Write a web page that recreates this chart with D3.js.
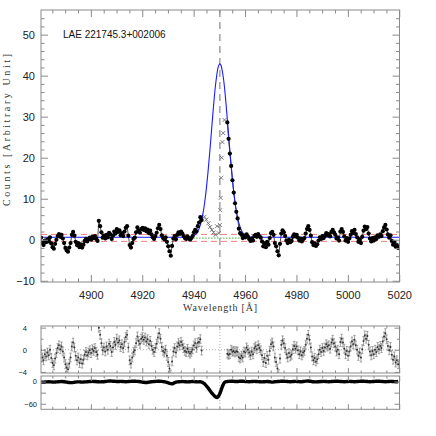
<!DOCTYPE html>
<html><head><meta charset="utf-8">
<script src="https://cdn.jsdelivr.net/npm/d3@7/dist/d3.min.js"></script>
<style>body{margin:0;background:#fff}</style>
</head><body>
<svg id="c" width="436" height="436" xmlns="http://www.w3.org/2000/svg"></svg>
<script>
// ---------------- data ----------------
const title = "LAE 221745.3+002006";
const xLabel = "Wavelength [\u00C5]";
const yLabel = "Counts [Arbitrary Unit]";
const xTicksMajor = [4900, 4920, 4940, 4960, 4980, 5000, 5020];
const yTicksMain = [-10, 0, 10, 20, 30, 40, 50];
const yTicksResid = [-4, 0, 4];
const yTicksLower = [-60, 0];

// spectrum sampled every 0.5 A
const waveStep = 0.5;
const blueSideStart = 4880.6;   // continuum + blue wing
const blueSideFlux = [
  0.5,-0.8,-1.3,-0.2,-0.6,0.1,-0.4,0.6,-0.9,-1.8,
  -2.2,-1.0,0.0,0.9,1.4,0.7,1.2,0.3,-0.8,-2.0,
  -2.6,-2.9,-1.9,-0.8,1.2,1.9,1.0,-0.5,-1.3,-0.8,
  -1.8,-1.1,-1.9,-1.2,-0.3,0.2,-0.4,0.1,0.5,0.0,
  0.7,0.4,0.9,0.2,-0.3,4.6,3.3,1.8,0.5,1.0,
  0.3,1.2,0.6,1.7,1.3,0.2,1.0,2.0,1.5,2.6,
  1.9,2.3,1.1,1.6,0.9,2.0,2.9,3.3,1.0,-1.3,
  -1.9,-0.8,0.2,0.5,1.8,3.0,2.2,1.7,2.6,2.9,
  2.4,2.8,2.1,2.5,1.6,2.2,1.3,0.6,0.2,0.9,
  1.7,2.8,3.6,2.6,1.1,0.4,0.1,0.6,-0.5,-1.6,
  -2.8,-3.9,-1.5,0.3,0.9,0.1,1.2,1.8,1.4,2.0,
  1.5,0.9,0.4,0.2,0.8,0.3,0.0,0.4,0.9,1.8,
  2.4,2.0,3.3,4.2,5.5,4.8
];
const redSideStart = 4953.1;    // red wing + continuum
const redSideFlux = [
  28.6,24.6,21.0,18.0,14.5,11.5,8.9,6.8,5.2,2.7,
  1.6,1.2,0.4,1.0,0.6,1.3,0.8,0.2,-0.3,0.3,
  -0.2,0.9,1.2,0.7,1.4,0.9,0.5,-0.4,-1.6,-0.9,
  -1.8,-0.5,-1.2,0.4,1.6,1.9,1.2,-0.8,-1.6,-2.8,
  -3.8,-1.0,1.5,2.3,1.8,0.9,-0.2,-0.8,0.0,-0.6,
  -0.3,0.7,1.3,0.8,1.2,0.5,-0.2,0.3,-0.4,0.1,
  0.4,1.5,2.6,3.3,2.4,1.0,-0.6,-1.3,-0.9,-1.5,
  -1.1,-0.2,0.6,0.2,0.9,0.4,1.0,1.6,1.2,1.4,
  0.8,1.9,2.4,1.8,1.2,0.3,0.6,-0.2,2.0,2.6,
  1.9,0.8,-0.2,0.4,-0.5,0.3,1.2,2.1,1.6,2.4,
  1.4,0.6,-0.5,0.1,-0.8,0.7,2.2,3.2,2.6,3.1,
  1.5,0.3,-0.4,0.4,-0.2,0.6,0.2,1.1,0.7,1.3,
  0.9,2.1,3.0,3.6,2.5,1.3,0.5,1.1,-0.3,-1.2,
  -0.6,-1.7,-1.3,-2.0
];
// masked pixels (grey crosses)
const maskedWave = [4944.2,4944.9,4945.7,4946.4,4947.1,4947.8,4948.5,4949.1,4949.8,4950.2,4950.3,4950.5,4950.7,4950.9,4951.2,4951.5,4952.0];
const maskedFlux = [5.6,4.9,4.0,3.1,2.4,1.8,1.2,3.3,1.6,3.6,7.2,10.2,15.1,20.0,23.8,26.0,29.2];

// fitted model (blue)
const modelWave = [4880.6,4935.6,4936.6,4937.6,4938.6,4939.6,4940.6,4941.6,4942.6,4943.6,4944.6,4945.6,4946.6,4947.6,4948.6,4949.6,4950.2,4950.6,4951.6,4952.6,4953.6,4954.6,4955.6,4956.6,4957.6,4958.6,4959.6,4960.6,4961.6,4962.6,4963.6,4964.6,5020.1];
const modelFlux = [0.6,0.6,0.6,0.63,0.69,0.84,1.22,2.02,3.58,6.32,10.6,16.6,23.9,31.6,38.2,42.2,42.9,42.6,39.3,33.1,25.5,18.0,11.7,7.06,4.03,2.26,1.33,0.89,0.71,0.64,0.61,0.6,0.6];

const lineCenter = 4950.2;
const noiseUpper = 1.3, noiseLower = -0.4;
const fitLevel = 0.4, fitRange = [4938.6, 4958.0];
const residError = 0.8;

// lower panel
const lowerLeftStart = 4880.6, lowerLeftStep = 1;
const lowerLeft = [
  -1,-1.5,-1,-0.5,-1,-1.5,-1,-0.5,0,-0.5,-1.5,-2.5,-3,-2,-1,-1,-1.5,-1,-0.5,0,
  0.5,0,-0.5,-1,-0.5,0,1,1.5,1,0.5,0,0.5,0,-0.5,0,0.5,1,0.5,0,-1,
  -2,-2.5,-1.5,-0.5,0,0.5,1,0.5,-0.5,-2,-5,-6,-3,-1,-0.5,0,-0.5,-1,-0.5,0,
  -0.5,-1
];
const lowerDipStart = 4942.1, lowerDipStep = 0.5;
const lowerDip = [-0.5,-0.5,-1.5,-3,-5.5,-9,-13,-17,-22,-27,-31,-35,-39,-42,-43,-40,-34,-25,-15,-7,-2,-0.5,0];
const lowerRightStart = 4953.6, lowerRightStep = 1;
const lowerRight = [
  0.5,1,0.5,0,0.5,1,0.5,0,-0.5,0,0.5,0,-0.5,-1,-0.5,0,-0.5,-1.5,-0.5,0,
  0.5,1,0.5,0,-0.5,0,0.5,0,-0.5,0,1,1.5,0.5,-0.5,-1,-0.5,0,0.5,0,-0.5,
  0,0.5,1,0.5,0,-0.5,0,0.5,0,-0.5,0,0.5,1,0.5,0,-0.5,0,0.5,1,0.5,
  0,-0.5,0,0.5,0,-0.5,0
];

// ---------------- layout ----------------
const L = 41, R = 399.5;
const main = {top: 10, bottom: 282};
const res = {top: 326, bottom: 373};
const low = {top: 376, bottom: 409.3};
const frameColor = "#8a8a8a";
const textColor = "#222";

const svg = d3.select("#c");
const x = d3.scaleLinear().domain([4880.6, 5020.1]).range([L, R]);
const yMain = d3.scaleLinear().domain([-10.3, 56]).range([main.bottom, main.top]);
const yRes = d3.scaleLinear().domain([-4.2, 4.3]).range([res.bottom, res.top]);
const yLow = d3.scaleLinear().domain([-75, 15]).range([low.bottom, low.top]);

const seg = (start, step, arr) => arr.map((v, i) => ({w: start + i * step, v}));
const blueSide = seg(blueSideStart, waveStep, blueSideFlux);
const redSide = seg(redSideStart, waveStep, redSideFlux);
const model = modelWave.map((w, i) => ({w, v: modelFlux[i]}));
const lower = seg(lowerLeftStart, lowerLeftStep, lowerLeft)
  .concat(seg(lowerDipStart, lowerDipStep, lowerDip))
  .concat(seg(lowerRightStart, lowerRightStep, lowerRight));

function modelAt(w) {
  if (w <= modelWave[0]) return modelFlux[0];
  for (let i = 1; i < modelWave.length; i++) {
    if (w <= modelWave[i]) {
      const t = (w - modelWave[i-1]) / (modelWave[i] - modelWave[i-1]);
      return modelFlux[i-1] + t * (modelFlux[i] - modelFlux[i-1]);
    }
  }
  return modelFlux[modelFlux.length - 1];
}
const residuals = blueSide.concat(redSide).map(d => ({w: d.w, v: d.v - modelAt(d.w)}));

const minorX = d3.range(4885, 5020.1, 5);

function clip(id, top, bottom) {
  svg.append("clipPath").attr("id", id).append("rect")
    .attr("x", L).attr("y", top).attr("width", R - L).attr("height", bottom - top);
}
clip("cm", main.top, main.bottom);
clip("cr", res.top, res.bottom);
clip("cl", low.top, low.bottom);

function frame(p, yScale, yMajor, yMinor, opt) {
  const g = svg.append("g");
  const xb = d3.axisBottom(x).tickValues(xTicksMajor).tickSize(-opt.xMajor).tickPadding(9)
    .tickFormat(opt.xLabels ? d3.format("d") : "");
  g.append("g").attr("transform", `translate(0,${p.bottom})`).call(xb);
  g.append("g").attr("transform", `translate(0,${p.bottom})`)
    .call(d3.axisBottom(x).tickValues(minorX.filter(v => !xTicksMajor.includes(v))).tickSize(-opt.xMinor).tickFormat(""));
  g.append("g").attr("transform", `translate(0,${p.top})`)
    .call(d3.axisTop(x).tickValues(xTicksMajor).tickSize(-opt.xMajor).tickFormat(""));
  g.append("g").attr("transform", `translate(0,${p.top})`)
    .call(d3.axisTop(x).tickValues(minorX.filter(v => !xTicksMajor.includes(v))).tickSize(-opt.xMinor).tickFormat(""));
  g.append("g").attr("transform", `translate(${L},0)`)
    .call(d3.axisLeft(yScale).tickValues(yMajor).tickSize(-opt.yMajor).tickPadding(opt.yPad).tickFormat(d3.format("d")));
  g.append("g").attr("transform", `translate(${L},0)`)
    .call(d3.axisLeft(yScale).tickValues(yMinor).tickSize(-opt.yMinor).tickFormat(""));
  g.append("g").attr("transform", `translate(${R},0)`)
    .call(d3.axisRight(yScale).tickValues(yMajor).tickSize(-opt.yMajor).tickFormat(""));
  g.append("g").attr("transform", `translate(${R},0)`)
    .call(d3.axisRight(yScale).tickValues(yMinor).tickSize(-opt.yMinor).tickFormat(""));
  g.selectAll(".domain").remove();
  g.selectAll(".tick line").attr("stroke", frameColor).attr("stroke-width", 1);
  g.selectAll(".tick text").attr("fill", textColor)
    .style("font-family", "Liberation Sans, Arial, sans-serif").style("font-size", opt.fs + "px");
  g.append("rect").attr("x", L).attr("y", p.top).attr("width", R - L).attr("height", p.bottom - p.top)
    .attr("fill", "none").attr("stroke", frameColor).attr("stroke-width", 1);
  return g;
}

// ---------------- main panel ----------------
const gm = svg.append("g").attr("clip-path", "url(#cm)");
[noiseUpper, noiseLower].forEach(v => {
  gm.append("line").attr("x1", L).attr("x2", R).attr("y1", yMain(v)).attr("y2", yMain(v))
    .attr("stroke", "#f07070").attr("stroke-width", 0.9).attr("stroke-dasharray", "6,4");
});
gm.append("line").attr("x1", x(fitRange[0])).attr("x2", x(fitRange[1]))
  .attr("y1", yMain(fitLevel)).attr("y2", yMain(fitLevel))
  .attr("stroke", "#22aa22").attr("stroke-width", 0.9).attr("stroke-dasharray", "1.5,1.5");
gm.append("line").attr("x1", x(lineCenter)).attr("x2", x(lineCenter))
  .attr("y1", main.top).attr("y2", main.bottom)
  .attr("stroke", "#9a9a9a").attr("stroke-width", 1.4).attr("stroke-dasharray", "7,5");

const lineGen = d3.line().x(d => x(d.w)).y(d => yMain(d.v));
[blueSide, redSide].forEach(s => {
  gm.append("path").datum(s).attr("d", lineGen).attr("fill", "none")
    .attr("stroke", "#000").attr("stroke-width", 0.7);
});
gm.selectAll(".mk").data(maskedWave.map((w, i) => ({w, v: maskedFlux[i]}))).enter()
  .append("path").attr("d", d3.symbol().type(d3.symbolX).size(12))
  .attr("transform", d => `translate(${x(d.w)},${yMain(d.v)})`)
  .attr("fill", "none").attr("stroke", "#6e6e6e").attr("stroke-width", 0.9);
gm.append("path").datum(model)
  .attr("d", d3.line().x(d => x(d.w)).y(d => yMain(d.v)).curve(d3.curveCatmullRom.alpha(0.5)))
  .attr("fill", "none").attr("stroke", "#1a1aff").attr("stroke-width", 1.1);
gm.selectAll(".pt").data(blueSide.concat(redSide)).enter().append("circle")
  .attr("cx", d => x(d.w)).attr("cy", d => yMain(d.v)).attr("r", 2.1).attr("fill", "#000");

frame(main, yMain, yTicksMain, d3.range(-10, 56, 2).filter(v => v % 10 !== 0),
  {xMajor: 7, xMinor: 3.5, yMajor: 7, yMinor: 3.5, yPad: 6, xLabels: true, fs: 11});

svg.append("text").attr("x", 63).attr("y", 38).text(title)
  .attr("fill", "#111").style("font-family", "Liberation Sans, Arial, sans-serif").style("font-size", "10px");
svg.append("text").attr("x", 220).attr("y", 311).attr("text-anchor", "middle").text(xLabel)
  .attr("fill", "#333").attr("textLength", 74).attr("lengthAdjust", "spacing")
  .style("font-family", "Liberation Serif, serif").style("font-size", "10px");
svg.append("text").attr("transform", "translate(10,130) rotate(-90)").attr("text-anchor", "middle").text(yLabel)
  .attr("fill", "#333").attr("textLength", 152).attr("lengthAdjust", "spacing")
  .style("font-family", "Liberation Serif, serif").style("font-size", "10px");

// ---------------- residual panel ----------------
const gr = svg.append("g").attr("clip-path", "url(#cr)");
gr.append("line").attr("x1", L).attr("x2", R).attr("y1", yRes(0)).attr("y2", yRes(0))
  .attr("stroke", "#999").attr("stroke-width", 0.8).attr("stroke-dasharray", "1,2");
gr.append("line").attr("x1", x(lineCenter)).attr("x2", x(lineCenter)).attr("y1", res.top).attr("y2", res.bottom)
  .attr("stroke", "#999").attr("stroke-width", 0.8).attr("stroke-dasharray", "1,2");
const eb = gr.selectAll(".eb").data(residuals).enter().append("g");
eb.append("line").attr("x1", d => x(d.w)).attr("x2", d => x(d.w))
  .attr("y1", d => yRes(d.v - residError)).attr("y2", d => yRes(d.v + residError))
  .attr("stroke", "#808080").attr("stroke-width", 0.7);
eb.append("line").attr("x1", d => x(d.w) - 1.2).attr("x2", d => x(d.w) + 1.2)
  .attr("y1", d => yRes(d.v + residError)).attr("y2", d => yRes(d.v + residError))
  .attr("stroke", "#808080").attr("stroke-width", 0.7);
eb.append("line").attr("x1", d => x(d.w) - 1.2).attr("x2", d => x(d.w) + 1.2)
  .attr("y1", d => yRes(d.v - residError)).attr("y2", d => yRes(d.v - residError))
  .attr("stroke", "#808080").attr("stroke-width", 0.7);
eb.append("circle").attr("cx", d => x(d.w)).attr("cy", d => yRes(d.v)).attr("r", 1).attr("fill", "#333");
frame(res, yRes, yTicksResid, [-2, 2], {xMajor: 5, xMinor: 2.5, yMajor: 5, yMinor: 2.5, yPad: 14, xLabels: false, fs: 7.5});

// ---------------- lower panel ----------------
const gl = svg.append("g").attr("clip-path", "url(#cl)");
gl.append("line").attr("x1", x(lineCenter)).attr("x2", x(lineCenter)).attr("y1", low.top).attr("y2", low.bottom)
  .attr("stroke", "#999").attr("stroke-width", 0.8).attr("stroke-dasharray", "1,2");
gl.append("path").datum(lower)
  .attr("d", d3.line().x(d => x(d.w)).y(d => yLow(d.v)).curve(d3.curveMonotoneX))
  .attr("fill", "none").attr("stroke", "#000").attr("stroke-width", 3.4);
frame(low, yLow, yTicksLower, [-30], {xMajor: 5, xMinor: 2.5, yMajor: 5, yMinor: 5, yPad: 4, xLabels: false, fs: 7.5});
</script>
</body></html>
